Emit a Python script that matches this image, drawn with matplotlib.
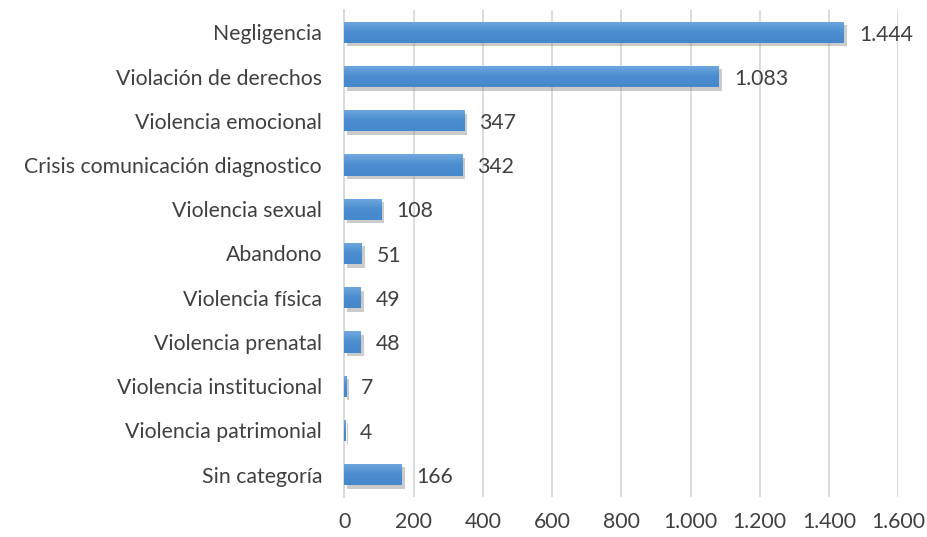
import numpy as np
import matplotlib
matplotlib.use("Agg")
import matplotlib.pyplot as plt
import matplotlib.patheffects as pe
from matplotlib.colors import LinearSegmentedColormap

categorias = ["Negligencia", "Violación de derechos", "Violencia emocional",
              "Crisis comunicación diagnostico", "Violencia sexual", "Abandono",
              "Violencia física", "Violencia prenatal", "Violencia institucional",
              "Violencia patrimonial", "Sin categoría"]
valores = [1444, 1083, 347, 342, 108, 51, 49, 48, 7, 4, 166]
ticks_x = [0, 200, 400, 600, 800, 1000, 1200, 1400, 1600]


def fmt(v):
    return f"{v:,}".replace(",", ".")


plt.rcParams["font.family"] = ["Lato", "DejaVu Sans"]
TAM = 15.3

fig = plt.figure(figsize=(9.28, 5.37), dpi=100)
ax = fig.add_axes([0.371, 0.075, 0.597, 0.906])

y = np.arange(len(categorias))
alto = 0.48
barras = ax.barh(y, valores, height=alto, color="#5B9BD5", zorder=3,
                 path_effects=[pe.SimplePatchShadow(offset=(2, -2.5), shadow_rgbFace="#7F7F7F", alpha=0.4),
                               pe.Normal()])

# degradado vertical dentro de cada barra
grad = np.linspace(0, 1, 64).reshape(-1, 1)
cmap = LinearSegmentedColormap.from_list("g", ["#71A9DF", "#4B8DCF", "#4588CB"])
for b in barras:
    x0, y0 = b.get_x(), b.get_y()
    w, h = b.get_width(), b.get_height()
    im = ax.imshow(grad, cmap=cmap, aspect="auto", extent=(x0, x0 + w, y0 + h, y0),
                   zorder=4, interpolation="bilinear")
    im.set_clip_path(b)

for yi, v in zip(y, valores):
    ax.text(v + 42, yi + 0.05, fmt(v), va="center", ha="left", fontsize=TAM, color="#404040", zorder=5)

ax.set_xlim(0, 1600)
ax.set_ylim(len(categorias) - 0.5, -0.5)
ax.set_xticks(ticks_x)
ax.set_xticklabels([fmt(t) for t in ticks_x], fontsize=TAM, color="#404040")
ax.set_yticks(y)
ax.set_yticklabels(categorias, fontsize=TAM, color="#404040")
ax.tick_params(axis="x", length=0, pad=11)
ax.tick_params(axis="y", length=0, pad=16)
ax.grid(axis="x", color="#D9D9D9", linewidth=1.3, zorder=0)
for s in ["top", "right", "bottom"]:
    ax.spines[s].set_visible(False)
ax.spines["left"].set_color("#D9D9D9")
ax.spines["left"].set_linewidth(1.3)

fig.savefig("out.png", dpi=100)
